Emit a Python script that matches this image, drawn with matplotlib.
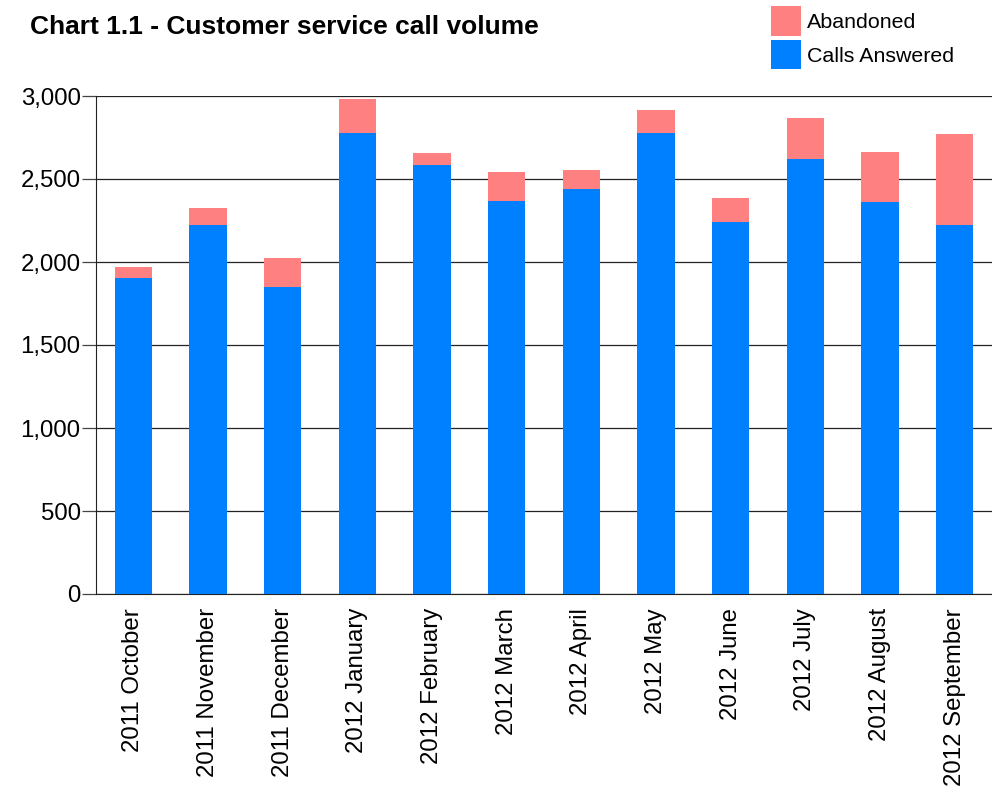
import matplotlib
matplotlib.use("Agg")
import matplotlib.pyplot as plt
import numpy as np
from matplotlib.ticker import FuncFormatter

plt.rcParams['font.family'] = ['Liberation Sans', 'DejaVu Sans']

# Monthly call counts
months = ['2011 October', '2011 November', '2011 December', '2012 January',
          '2012 February', '2012 March', '2012 April', '2012 May',
          '2012 June', '2012 July', '2012 August', '2012 September']
answered = [1904, 2223, 1849, 2777, 2584, 2367, 2440, 2777, 2241, 2620, 2361, 2223]
abandoned = [66, 102, 175, 205, 73, 175, 114, 139, 145, 247, 302, 548]

blue = '#0080FF'
pink = '#FF8080'

fig = plt.figure(figsize=(9.92, 7.87), dpi=100)
ax = fig.add_axes([96/992, 1 - 594/787, 1 - 96/992, (594 - 96)/787])

x = np.arange(len(months))
b1 = ax.bar(x, answered, width=0.5, color=blue, label='Calls Answered', zorder=3)
b2 = ax.bar(x, abandoned, width=0.5, bottom=answered, color=pink, label='Abandoned', zorder=3)

ax.set_xlim(-0.5, len(months) - 0.5)
ax.set_ylim(0, 3000)
ax.set_yticks(np.arange(0, 3001, 500))
ax.yaxis.set_major_formatter(FuncFormatter(lambda v, p: f'{int(v):,}'))
ax.grid(axis='y', color='#222222', linewidth=0.9, zorder=1)

ax.set_xticks(x)
ax.set_xticklabels(months, rotation=90, fontsize=17.3)
ax.tick_params(axis='x', length=0, pad=10)
ax.tick_params(axis='y', length=10, width=0.9, color='#444444', labelsize=17.3, pad=1)

for side in ['top', 'right']:
    ax.spines[side].set_visible(False)
ax.spines['left'].set_color('#222222')
ax.spines['bottom'].set_color('#222222')

fig.text(30/992, 1 - 27/787, 'Chart 1.1 - Customer service call volume',
         fontsize=19, fontweight='bold', va='center', ha='left')

fig.legend([b2, b1], ['Abandoned', 'Calls Answered'],
           loc='upper left', bbox_to_anchor=(771/992, 1 - 6/787),
           frameon=False, fontsize=15.4, borderpad=0, borderaxespad=0,
           handlelength=1.4, handleheight=1.75, handletextpad=0.28,
           labelspacing=0.2)

fig.savefig('out.png', dpi=100)
